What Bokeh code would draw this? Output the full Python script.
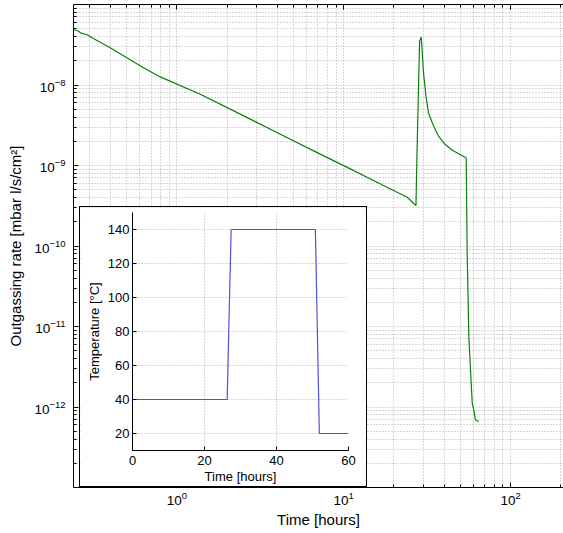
from bokeh.plotting import figure
from bokeh.models import Range1d, FixedTicker, LogAxis
from bokeh.embed import file_html
from bokeh.resources import INLINE

# ---- data ----
hours = [0.240, 0.257, 0.269, 0.288, 0.316, 0.398, 0.501, 0.631, 0.794, 1.38, 2.19,
         4.17, 6.60, 10.5, 16.6, 24.0, 27.1, 27.5, 28.1, 28.5, 29.1, 29.4, 30.0,
         31.1, 32.2, 34.5, 36.9, 40.7, 44.8, 50.1, 54.2, 54.9, 56.2, 58.9, 60.2,
         61.5, 64.4]
rate = [4.89e-8, 4.65e-8, 4.37e-8, 4.24e-8, 3.78e-8, 2.90e-8, 2.18e-8, 1.64e-8,
        1.26e-8, 7.67e-9, 4.77e-9, 2.45e-9, 1.52e-9, 9.48e-10, 5.90e-10, 4.03e-10,
        3.18e-10, 1.52e-9, 1.03e-8, 3.51e-8, 3.93e-8, 3.04e-8, 1.49e-8, 7.3e-9,
        4.5e-9, 3.11e-9, 2.34e-9, 1.81e-9, 1.55e-9, 1.36e-9, 1.24e-9, 8.83e-11,
        7.46e-12, 1.12e-12, 9.2e-13, 6.95e-13, 6.6e-13]

temp_hours = [0, 26.3, 27.4, 50.8, 51.9, 60]
temp_c = [40, 40, 140, 140, 20, 20]

x_major = [1, 10, 100]
x_minor = [k * 10.0 ** e for e in (-1, 0, 1, 2) for k in range(2, 10)]
y_major = [1e-12, 1e-11, 1e-10, 1e-9, 1e-8]
y_minor = [k * 10.0 ** e for e in range(-13, -7) for k in range(2, 10)]
inset_x_ticks = [0, 20, 40, 60]
inset_y_ticks = [20, 40, 60, 80, 100, 120, 140]

FONT = "Liberation Sans"
GRID = "#b0b0b0"

# ---- main figure ----
p = figure(frame_width=490, frame_height=483, x_axis_type="log", y_axis_type="log",
           x_range=Range1d(0.24, 207.6), y_range=Range1d(1e-13, 1e-7),
           output_backend="svg", toolbar_location=None,
           min_border_left=72, min_border_right=0, min_border_top=3,
           min_border_bottom=46,
           x_axis_label="Time [hours]",
           y_axis_label="Outgassing rate [mbar l/s/cm²]")
p.margin = (1, 0, 0, 1)
p.outline_line_color = None
p.background_fill_color = "white"
p.border_fill_color = "white"

p.line(hours, rate, line_color="#0a800a", line_width=1.2)

p.xaxis.ticker = FixedTicker(ticks=x_major, minor_ticks=x_minor)
p.yaxis.ticker = FixedTicker(ticks=y_major, minor_ticks=y_minor)

for ax in (p.xaxis[0], p.yaxis[0]):
    ax.major_tick_in = 5
    ax.major_tick_out = 0
    ax.minor_tick_in = 3
    ax.minor_tick_out = 0
    ax.axis_line_color = "black"
    ax.major_tick_line_color = "black"
    ax.minor_tick_line_color = "black"
    ax.major_label_text_font = FONT
    ax.major_label_text_font_size = "13.5px"
    ax.major_label_text_color = "black"
    ax.axis_label_text_font = FONT
    ax.axis_label_text_font_size = "15px"
    ax.axis_label_text_font_style = "normal"
    ax.axis_label_text_color = "black"

p.xaxis.major_label_standoff = 4
p.xaxis.axis_label_standoff = 3
p.yaxis.major_label_standoff = 8
p.yaxis.axis_label_standoff = 7

top_axis = LogAxis(ticker=FixedTicker(ticks=x_major, minor_ticks=x_minor),
                   major_label_text_font_size="1px", major_label_text_color=None,
                   major_label_standoff=0,
                   major_tick_in=5, major_tick_out=0, minor_tick_in=3,
                   minor_tick_out=0, axis_line_color="black")
p.add_layout(top_axis, "above")

for g in (p.xgrid[0], p.ygrid[0]):
    g.grid_line_color = GRID
    g.grid_line_dash = "1 2"
    g.grid_line_width = 1
    g.minor_grid_line_color = GRID
    g.minor_grid_line_dash = "1 2"
    g.minor_grid_line_width = 1

# ---- inset ----
q = figure(frame_width=216, frame_height=238, x_range=Range1d(0, 60),
           y_range=Range1d(10, 150),
           output_backend="svg", toolbar_location=None,
           min_border_left=52, min_border_right=18, min_border_top=5,
           min_border_bottom=35,
           x_axis_label="Time [hours]", y_axis_label="Temperature [°C]")
q.margin = (-327, 0, 0, 79)
q.styles = {"border": "1px solid black"}
q.outline_line_color = None
q.background_fill_color = "white"
q.border_fill_color = "white"

q.line(temp_hours, temp_c, line_color="#5050dd", line_width=1.2)

q.xaxis.ticker = FixedTicker(ticks=inset_x_ticks)
q.yaxis.ticker = FixedTicker(ticks=inset_y_ticks)
for ax in (q.xaxis[0], q.yaxis[0]):
    ax.major_tick_in = 4
    ax.major_tick_out = 0
    ax.minor_tick_line_color = None
    ax.axis_line_color = "black"
    ax.major_tick_line_color = "black"
    ax.major_label_text_font = FONT
    ax.major_label_text_font_size = "13px"
    ax.major_label_text_color = "black"
    ax.axis_label_text_font = FONT
    ax.axis_label_text_font_size = "13px"
    ax.axis_label_text_font_style = "normal"
    ax.axis_label_text_color = "black"
q.xaxis.major_label_standoff = 5
q.xaxis.axis_label_standoff = 1
q.yaxis.major_label_standoff = 3
q.yaxis.axis_label_standoff = 3
for g in (q.xgrid[0], q.ygrid[0]):
    g.grid_line_color = GRID
    g.grid_line_dash = "1 2"

open("out.html", "w").write(file_html([p, q], INLINE))
